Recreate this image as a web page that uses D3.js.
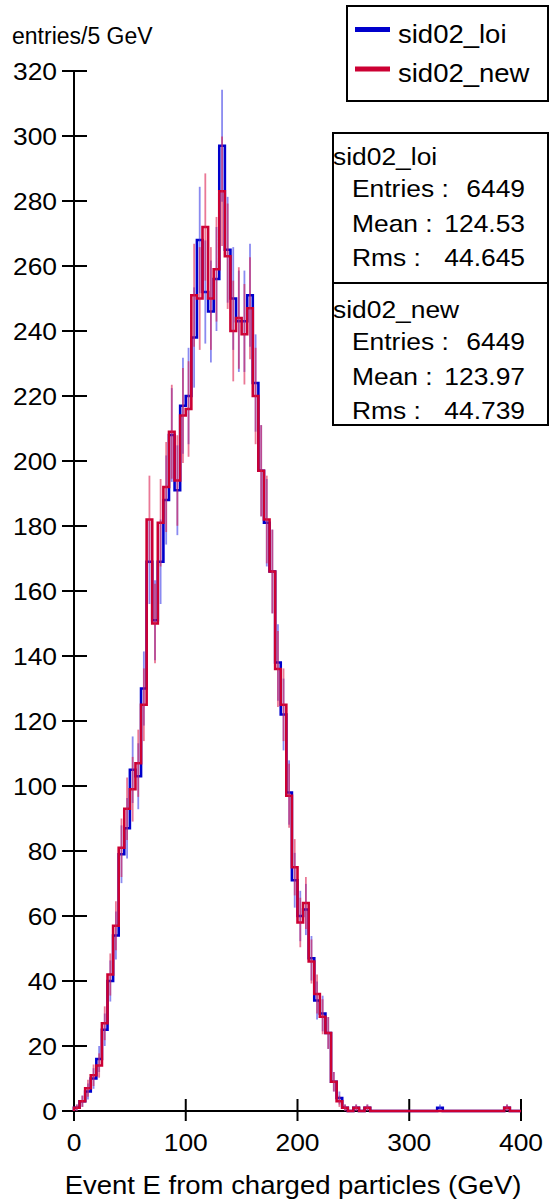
<!DOCTYPE html>
<html>
<head>
<meta charset="utf-8">
<script src="https://cdn.jsdelivr.net/npm/d3@7"></script>
<style>
  html, body { margin: 0; padding: 0; background: #fff; }
  svg { display: block; }
  text { font-family: "Liberation Sans", Arial, Helvetica, sans-serif; fill: #000; }
</style>
</head>
<body>
<svg id="chart" width="549" height="1202"></svg>
<script>
// Histogram binning: 80 bins of 5 GeV from 0 to 400 GeV
const binStart = 0;
const binWidth = 5;

// Entries per 5 GeV bin, sample sid02_loi
const loiCounts = [
  1, 3, 6, 10, 16, 25, 40, 54, 79, 87,
  105, 103, 130, 169, 151, 169, 188, 208, 191, 217,
  220, 238, 268, 252, 246, 256, 297, 265, 250, 243,
  243, 251, 224, 197, 181, 166, 138, 122, 98, 71,
  60, 62, 47, 34, 30, 24, 9, 4, 1, 0,
  1, 0, 1, 0, 0, 0, 0, 0, 0, 0,
  0, 0, 0, 0, 0, 1, 0, 0, 0, 0,
  0, 0, 0, 0, 0, 0, 0, 1, 0, 0
];

// Entries per 5 GeV bin, sample sid02_new
const newCounts = [
  1, 3, 7, 11, 14, 27, 42, 57, 81, 93,
  99, 107, 125, 182, 150, 181, 192, 209, 194, 214,
  216, 251, 250, 272, 250, 259, 283, 263, 240, 244,
  239, 247, 220, 197, 182, 166, 136, 125, 97, 75,
  58, 64, 46, 36, 29, 24, 9, 3, 1, 0,
  1, 0, 1, 0, 0, 0, 0, 0, 0, 0,
  0, 0, 0, 0, 0, 0, 0, 0, 0, 0,
  0, 0, 0, 0, 0, 0, 0, 1, 0, 0
];

const xTicks = [0, 100, 200, 300, 400];
const yTicks = [0, 20, 40, 60, 80, 100, 120, 140, 160, 180, 200, 220, 240, 260, 280, 300, 320];

const seriesNames = ["sid02_loi", "sid02_new"];
const statLabels = ["Entries", "Mean", "Rms"];
const loiStats = ["6449", "124.53", "44.645"];
const newStats = ["6449", "123.97", "44.739"];

const yTitle = "entries/5 GeV";
const xTitle = "Event E from charged particles (GeV)";

const colors = { loi: "#0000cc", new: "#cc0033" };
const errColors = { loi: "rgba(60,60,230,0.6)", new: "rgba(220,30,80,0.6)" };

const svg = d3.select("#chart");

const x = d3.scaleLinear().domain([0, 400]).range([74, 521]);
const y = d3.scaleLinear().domain([0, 320]).range([1111, 71]);

// Text helper with optional horizontal widening
function label(g, str, px, py, size, anchor, sx) {
  return g.append("text")
    .attr("transform", `translate(${px},${py}) scale(${sx || 1.1},1)`)
    .attr("font-size", size)
    .attr("text-anchor", anchor || "start")
    .text(str);
}

// Axes
const axes = svg.append("g");
axes.append("line").attr("x1", x(0)).attr("x2", x(400)).attr("y1", y(0)).attr("y2", y(0))
  .attr("stroke", "#000").attr("stroke-width", 2);
axes.append("line").attr("x1", x(0)).attr("x2", x(0)).attr("y1", y(0)).attr("y2", y(320))
  .attr("stroke", "#000").attr("stroke-width", 2);

yTicks.forEach(t => {
  axes.append("line").attr("x1", x(0) - 12).attr("x2", x(0) + 13)
    .attr("y1", y(t)).attr("y2", y(t)).attr("stroke", "#000").attr("stroke-width", 2);
  label(axes, String(t), 57, y(t) + 8.5, 24, "end");
});
xTicks.forEach(t => {
  axes.append("line").attr("x1", x(t)).attr("x2", x(t))
    .attr("y1", y(0) - 12).attr("y2", y(0) + 10).attr("stroke", "#000").attr("stroke-width", 2);
  label(axes, String(t), x(t), 1151, 24, "middle");
});

label(svg, yTitle, 12, 44, 23, "start", 1.0);
label(svg, xTitle, 293, 1194, 25, "middle");

// Step outline for a histogram
function stepPath(counts) {
  const pts = [[x(binStart), y(0)]];
  counts.forEach((c, i) => {
    const x0 = x(binStart + i * binWidth), x1 = x(binStart + (i + 1) * binWidth);
    pts.push([x0, y(c)], [x1, y(c)]);
  });
  pts.push([x(binStart + counts.length * binWidth), y(0)]);
  return d3.line()(pts);
}

function drawHist(counts, key) {
  const g = svg.append("g");
  g.append("path").attr("d", stepPath(counts)).attr("fill", "none")
    .attr("stroke", colors[key]).attr("stroke-width", 2.6).attr("stroke-linejoin", "miter");
  // sqrt(N) error bars at bin centres
  g.selectAll("line.err").data(counts.map((c, i) => ({ c, i })).filter(d => d.c > 0))
    .enter().append("line")
    .attr("x1", d => x(binStart + (d.i + 0.5) * binWidth))
    .attr("x2", d => x(binStart + (d.i + 0.5) * binWidth))
    .attr("y1", d => y(d.c - Math.sqrt(d.c)))
    .attr("y2", d => y(d.c + Math.sqrt(d.c)))
    .attr("stroke", errColors[key]).attr("stroke-width", 1.8);
}
drawHist(loiCounts, "loi");
drawHist(newCounts, "new");

// Legend box
const leg = svg.append("g");
leg.append("rect").attr("x", 347).attr("y", 6).attr("width", 201).attr("height", 95)
  .attr("fill", "#fff").attr("stroke", "#000").attr("stroke-width", 2);
[["loi", 29.5, 42.5], ["new", 69, 81.5]].forEach(([k, ly, ty], i) => {
  leg.append("line").attr("x1", 355).attr("x2", 390).attr("y1", ly).attr("y2", ly)
    .attr("stroke", colors[k]).attr("stroke-width", 5);
  label(leg, seriesNames[i], 398, ty, 25, "start");
});

// Statistics box
const st = svg.append("g");
st.append("rect").attr("x", 333).attr("y", 133).attr("width", 215).attr("height", 292)
  .attr("fill", "#fff").attr("stroke", "#000").attr("stroke-width", 2);
st.append("line").attr("x1", 333).attr("x2", 548).attr("y1", 283).attr("y2", 283)
  .attr("stroke", "#000").attr("stroke-width", 2);
[[loiStats, 165], [newStats, 318]].forEach(([vals, top], s) => {
  label(st, seriesNames[s], 333, top, 24, "start");
  statLabels.forEach((lab, j) => {
    const by = top + 32 + j * 34.5;
    label(st, lab + " :", 352, by, 24, "start");
    label(st, vals[j], 525, by, 24, "end");
  });
});
</script>
</body>
</html>
